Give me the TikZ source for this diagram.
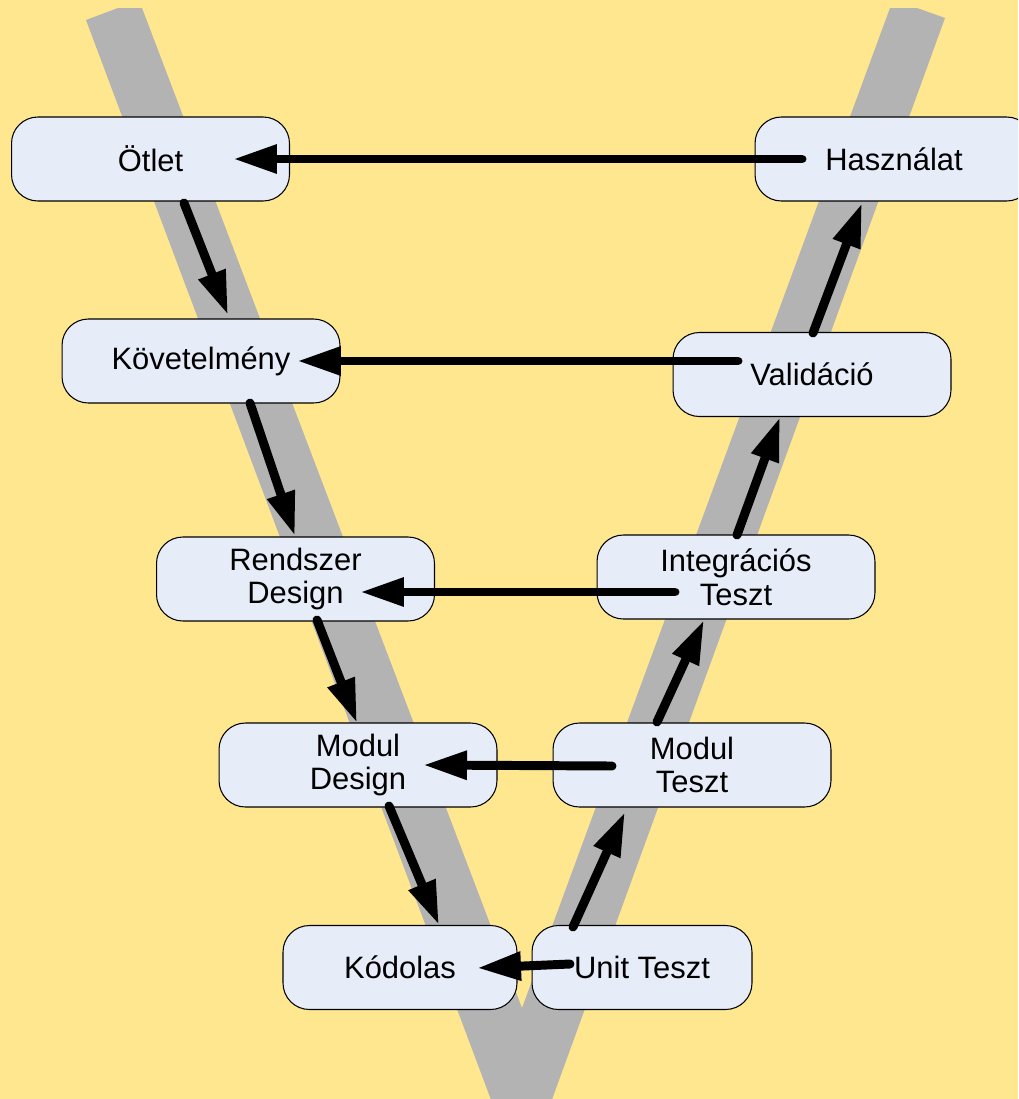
\documentclass[tikz,border=0pt]{standalone}
\usepackage{fontspec}
\setmainfont{Liberation Sans}
\usepackage{xcolor}
\usetikzlibrary{arrows.meta, positioning, calc}
\definecolor{PaperYellow}{HTML}{FFE78F}
\definecolor{BandGray}{HTML}{B3B3B3}
\definecolor{BoxBlue}{HTML}{E7EDF8}

\begin{document}
\begin{tikzpicture}[
    x=0.02cm, y=-0.02cm,
    phase_box/.style={
        draw=black,
        line width=0.6pt,
        fill=BoxBlue,
        rounded corners=15pt,
        minimum width=5.56cm,
        minimum height=1.68cm,
        inner sep=0pt,
        align=center,
        font=\fontsize{17.6}{19.2}\selectfont,
        text=black
    },
    flow_arrow/.style={
        -{Triangle[length=0.88cm, width=0.54cm]},
        line width=5.1pt,
        line cap=round,
        color=black
    }
]

% =========================
% BACKGROUND AND V BAND
% =========================
\clip (0,0) rectangle (1018,1099);
\fill[PaperYellow] (0,0) rectangle (1018,1099);

\fill[BandGray]
    (86,20) -- (118,8) -- (142,8) -- (522,1008)
    -- (890,8) -- (917,8) -- (945,18)
    -- (550,1105) -- (493,1105) -- cycle;

% =========================
% LEFT SIDE
% =========================
\node[phase_box] (otlet) at (150.5,159) {Ötlet};
\node[phase_box] (kovetelmeny) at (201,361) {Követelmény};
\node[phase_box] (rendszer) at (295.5,579) {Rendszer\\Design};
\node[phase_box] (moduldesign) at (358,765) {Modul\\Design};
\node[phase_box, minimum width=4.68cm] (kodolas) at (400,967.5) {Kódolas};

% =========================
% RIGHT SIDE
% =========================
\node[phase_box, minimum width=4.4cm] (unitteszt) at (642,967.5) {Unit Teszt};
\node[phase_box] (modulteszt) at (692,765) {Modul\\Teszt};
\node[phase_box] (integracios) at (736,577) {Integrációs\\Teszt};
\node[phase_box] (validacio) at (812,374.5) {Validáció};
\node[phase_box] (hasznalat) at (894,159) {Használat};

% =========================
% ARROWS DOWN
% =========================
\draw[flow_arrow] ($(otlet)+(33.5,44)$) -- ($(kovetelmeny)+(27,-46)$);
\draw[flow_arrow] ($(kovetelmeny)+(49,42)$) -- ($(rendszer)+(-0.5,-43)$);
\draw[flow_arrow] ($(rendszer)+(21.5,41)$) -- ($(moduldesign)+(-1,-42)$);
\draw[flow_arrow] ($(moduldesign)+(31,41)$) -- ($(kodolas)+(39,-42.5)$);

% =========================
% ARROWS UP
% =========================
\draw[flow_arrow] ($(unitteszt)+(-69,-40.5)$) -- ($(modulteszt)+(-67,47)$);
\draw[flow_arrow] ($(modulteszt)+(-35,-43)$) -- ($(integracios)+(-32,43)$);
\draw[flow_arrow] ($(integracios)+(1,-42)$) -- ($(validacio)+(-32,42.5)$);
\draw[flow_arrow] ($(validacio)+(1,-41.5)$) -- ($(hasznalat)+(-32,44)$);

% =========================
% ARROWS ACROSS
% =========================
\draw[flow_arrow] ($(hasznalat)+(-92,0)$) -- ($(otlet)+(82.5,0)$);
\draw[flow_arrow] ($(validacio)+(-74,-13.5)$) -- ($(kovetelmeny)+(96,0)$);
\draw[flow_arrow] ($(integracios)+(-61,15)$) -- ($(rendszer)+(64.5,13)$);
\draw[flow_arrow] ($(modulteszt)+(-80,1)$) -- ($(moduldesign)+(65,0)$);
\draw[flow_arrow] ($(unitteszt)+(-72,-3.5)$) -- ($(kodolas)+(77,0.5)$);

\end{tikzpicture}
\end{document}
